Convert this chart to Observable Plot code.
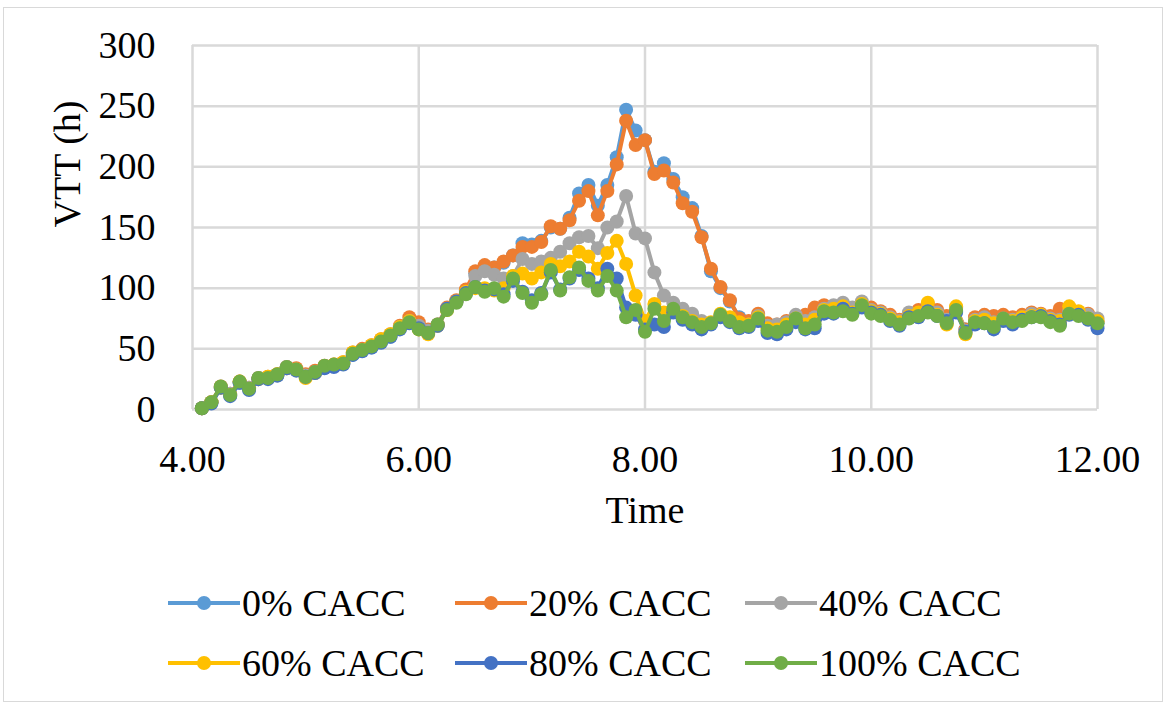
<!DOCTYPE html>
<html><head><meta charset="utf-8">
<script src="https://cdn.jsdelivr.net/npm/d3@7"></script>
<script src="https://cdn.jsdelivr.net/npm/@observablehq/plot@0.6"></script>
<style>
html,body{margin:0;padding:0;background:#fff;overflow:hidden;}
#frame{position:relative;width:1170px;height:709px;overflow:hidden;font-family:"Liberation Serif","Times New Roman",serif;}
#border{position:absolute;left:3px;top:7px;width:1160px;height:695px;border:1.5px solid #d9d9d9;box-sizing:border-box;}
#chart{position:absolute;left:0;top:0;}
.item{position:absolute;display:flex;align-items:center;font-size:38px;color:#000;white-space:nowrap;line-height:1;}
.item svg{display:block;}
</style></head>
<body><div id="frame"><div id="border"></div><div id="chart"></div><div id="legend"></div></div>
<script>
// time (decimal hours), one value every 5 minutes
const times = [4.083,4.167,4.25,4.333,4.417,4.5,4.583,4.667,4.75,4.833,4.917,5,
 5.083,5.167,5.25,5.333,5.417,5.5,5.583,5.667,5.75,5.833,5.917,6,
 6.083,6.167,6.25,6.333,6.417,6.5,6.583,6.667,6.75,6.833,6.917,7,
 7.083,7.167,7.25,7.333,7.417,7.5,7.583,7.667,7.75,7.833,7.917,8,
 8.083,8.167,8.25,8.333,8.417,8.5,8.583,8.667,8.75,8.833,8.917,9,
 9.083,9.167,9.25,9.333,9.417,9.5,9.583,9.667,9.75,9.833,9.917,10,
 10.083,10.167,10.25,10.333,10.417,10.5,10.583,10.667,10.75,10.833,10.917,11,
 11.083,11.167,11.25,11.333,11.417,11.5,11.583,11.667,11.75,11.833,11.917,12];

const seriesNames = ["0% CACC","20% CACC","40% CACC","60% CACC","80% CACC","100% CACC"];
const seriesColors = ["#5B9BD5","#ED7D31","#A5A5A5","#FFC000","#4472C4","#70AD47"];

const vtt0 = [1,6,18,12,22,17,25,26,28,34, 33,28,30,35,36,38,45,49,51,56,
 60,67,73,68,64,69,83,89,98,112, 117,117,121,127,137,136,139,150,149,158,
 178,185,168,185,208,247,230,222,196,203, 190,175,166,143,114,100,89,76,72,78,
 70,68,70,75,72,74,80,82,84,81, 85,82,79,76,72,76,78,82,79,74,
 81,66,74,75,72,75,74,76,78,78, 76,72,80,79,76,71];
const vtt20 = [1,6,19,13,23,18,26,27,29,35, 34,29,32,36,37,39,47,50,53,58,
 62,69,76,72,66,70,84,90,99,114, 119,117,122,127,134,134,138,151,149,156,
 172,180,160,180,202,238,218,222,194,197, 187,170,163,142,116,101,90,75,73,79,
 71,70,73,77,78,84,86,84,86,82, 86,84,81,78,74,79,82,87,82,77,
 83,66,76,78,77,78,76,78,80,79, 77,83,82,80,79,73];
const vtt40 = [1,6,18,13,22,18,26,26,28,35, 33,28,31,35,36,38,46,49,52,57,
 61,68,73,69,65,70,83,89,96,110, 114,111,108,110,124,120,122,125,130,137,
 142,143,133,150,155,176,145,141,113,94, 88,83,79,73,71,77,74,70,70,77,
 69,70,72,78,73,76,83,86,88,84, 89,82,80,76,73,80,79,84,80,74,
 84,65,74,76,72,75,74,76,79,78, 75,74,81,80,78,75];
const vtt60 = [1,6,18,12,23,17,25,27,29,34, 33,26,30,35,37,39,47,49,53,58,
 62,68,73,66,62,69,82,89,97,100, 100,98,100,110,112,108,113,120,118,122,
 130,126,116,129,139,120,94,73,87,80, 82,77,73,70,72,79,76,72,70,76,
 67,66,70,75,70,74,82,83,85,80, 87,81,79,75,72,77,80,88,78,70,
 85,62,73,74,71,74,73,76,77,78, 74,73,85,81,75,73];
const vtt80 = [1,5,18,11,22,16,25,25,28,34, 32,27,30,34,35,37,45,48,51,55,
 60,66,71,67,63,69,83,89,96,101, 98,99,95,106,97,90,96,113,99,108,
 115,108,100,116,108,84,78,66,70,68, 80,74,70,66,70,76,72,67,68,73,
 63,62,66,72,66,67,79,79,83,79, 84,80,78,73,69,76,76,81,77,73,
 80,64,70,71,66,73,70,74,76,77, 73,70,78,78,74,67];
const vtt100 = [1,6,19,12,23,17,26,26,29,35, 33,27,31,36,37,38,46,49,52,56,
 61,67,72,66,63,70,82,88,95,101, 97,100,93,108,96,88,95,115,98,109,
 117,106,98,110,98,76,82,64,83,73, 83,76,72,68,71,78,73,68,69,75,
 65,64,68,75,67,70,81,80,81,78, 86,79,77,74,70,75,77,80,77,71,
 82,63,72,71,68,75,72,73,76,76, 72,69,79,77,75,71];

const xTicks = [4,6,8,10,12];
const yTicks = [0,50,100,150,200,250,300];
const xLabel = "Time";
const yLabel = "VTT (h)";

const seriesValues = [vtt0, vtt20, vtt40, vtt60, vtt80, vtt100];
const rows = [];
seriesNames.forEach((name, i) => {
  seriesValues[i].forEach((v, j) => rows.push({series: name, time: times[j], vtt: v}));
});

const seriesMarks = seriesNames.flatMap(name => {
  const d = rows.filter(r => r.series === name);
  return [
    Plot.line(d, {x: "time", y: "vtt", stroke: "series", strokeWidth: 4, curve: "linear"}),
    Plot.dot(d, {x: "time", y: "vtt", fill: "series", r: 7, stroke: "none"})
  ];
});

const chart = Plot.plot({
  width: 1170,
  height: 540,
  marginLeft: 192,
  marginRight: 73,
  marginTop: 45,
  marginBottom: 131,
  style: {fontFamily: '"Liberation Serif","Times New Roman",serif', fontSize: "38px", color: "#000", background: "transparent", overflow: "visible"},
  x: {domain: [4, 12], ticks: xTicks, tickFormat: d => d.toFixed(2), tickSize: 0, tickPadding: 36, label: null},
  y: {domain: [0, 300], ticks: yTicks, tickSize: 0, tickPadding: 37, label: null},
  color: {domain: seriesNames, range: seriesColors},
  marks: [
    Plot.ruleX(xTicks, {stroke: "#d9d9d9", strokeWidth: 2.5}),
    Plot.ruleY(yTicks, {stroke: "#d9d9d9", strokeWidth: 2.5}),
    ...seriesMarks,
    Plot.text([xLabel], {frameAnchor: "bottom", dy: 113, fontSize: 38, fill: "#000"}),
    Plot.text([yLabel], {frameAnchor: "left", dx: -125, rotate: -90, fontSize: 38, fill: "#000"})
  ]
});
document.getElementById("chart").appendChild(chart);

// legend
const legendPos = [[168, 603], [455, 603], [745, 603], [168, 663], [455, 663], [745, 663]];
const legend = document.getElementById("legend");
seriesNames.forEach((name, i) => {
  const item = document.createElement("div");
  item.className = "item";
  item.style.left = legendPos[i][0] + "px";
  item.style.top = (legendPos[i][1] - 22) + "px";
  item.style.height = "44px";
  item.innerHTML = `<svg width="72" height="44"><line x1="0" x2="72" y1="22" y2="22" stroke="${seriesColors[i]}" stroke-width="4"/><circle cx="36" cy="22" r="7" fill="${seriesColors[i]}"/></svg><span style="margin-left:2px">${name}</span>`;
  legend.appendChild(item);
});
</script>
</body></html>
